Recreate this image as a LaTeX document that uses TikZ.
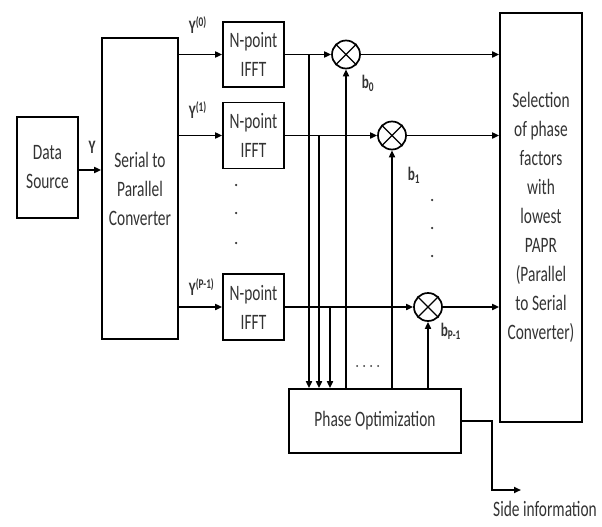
\documentclass[tikz,border=0pt]{standalone}
\usepackage{fontspec}
\setmainfont{Carlito}[FakeStretch=0.7]
\usetikzlibrary{arrows.meta}
\begin{document}
\begin{tikzpicture}[x=1pt,y=-1pt,line width=1.7pt,
  box/.style={draw, rectangle, inner sep=0pt, align=center, text=black!80, font=\fontsize{22}{29}\selectfont},
  mult/.style={draw, circle, minimum size=28pt, inner sep=0pt},
  arr/.style={-{Triangle[length=7pt,width=6pt]}},
  lbl/.style={font=\bfseries\fontsize{19}{20}\selectfont, inner sep=0pt, text=black!80},
  dotmark/.style={circle, fill=black!80, inner sep=0pt, minimum size=2.5pt}]
\useasboundingbox (0,0) rectangle (602,527);
% blocks
\node[box, minimum width=61pt, minimum height=101pt] (ds) at (47.5,167.5) {Data\\Source};
\node[box, minimum width=76pt, minimum height=301pt] (sp) at (140,188.5) {Serial to\\Parallel\\Converter};
\node[box, minimum width=61pt, minimum height=65pt] (f1) at (253.5,54.5) {N-point\\IFFT};
\node[box, minimum width=61pt, minimum height=66pt] (f2) at (253.5,135.5) {N-point\\IFFT};
\node[box, minimum width=61pt, minimum height=66pt] (f3) at (253.5,307) {N-point\\IFFT};
\node[box, minimum width=82pt, minimum height=409pt] (sel) at (541,217.5) {Selection\\of phase\\factors\\with\\lowest\\PAPR\\(Parallel\\to Serial\\Converter)};
\node[box, minimum width=172pt, minimum height=64pt] (po) at (375,421) {Phase Optimization};
% multipliers
\node[mult] (m1) at (346,54.5) {};
\node[mult] (m2) at (392,135.5) {};
\node[mult] (m3) at (428,307) {};
\foreach \m in {m1,m2,m3}{
  \draw[line width=1.4pt] (\m.north west) -- (\m.south east) (\m.north east) -- (\m.south west);
}
% connectors
\draw[arr] (ds.east |- 0,170) -- (sp.west |- 0,170);
\draw[arr] (sp.east |- f1.west) -- (f1.west);
\draw[arr] (sp.east |- f2.west) -- (f2.west);
\draw[arr] (sp.east |- f3.west) -- (f3.west);
\draw[arr] (f1.east) -- (m1.west);
\draw[arr] (f2.east) -- (m2.west);
\draw[arr] (f3.east) -- (m3.west);
\draw[arr] (m1.east) -- (sel.west |- m1.east);
\draw[arr] (m2.east) -- (sel.west |- m2.east);
\draw[arr] (m3.east) -- (sel.west |- m3.east);
% taps to phase optimization
\coordinate (t1) at (309,54.5);
\coordinate (t2) at (319,135.5);
\coordinate (t3) at (330,307);
\draw[arr] (t1) -- (t1 |- po.north);
\draw[arr] (t2) -- (t2 |- po.north);
\draw[arr] (t3) -- (t3 |- po.north);
% phase factors back up
\draw[arr] (po.north -| m1.south) -- (m1.south);
\draw[arr] (po.north -| m2.south) -- (m2.south);
\draw[arr] (po.north -| m3.south) -- (m3.south);
% side information
\coordinate (s1) at (492,421);
\coordinate (s2) at (492,490);
\coordinate (s3) at (521,490);
\draw[arr] (po.east) -- (s1) -- (s2) -- (s3);
\node[box, draw=none, anchor=north] (si) at (545,500) {Side information};
% labels
\node[lbl] (ly) at (92,147) {Y};
\node[lbl, anchor=west] (l0) at (188,25) {Y\textsuperscript{(0)}};
\node[lbl, anchor=west] (l1) at (188,110) {Y\textsuperscript{(1)}};
\node[lbl, anchor=west] (l2) at (188,287) {Y\textsuperscript{(P-1)}};
\node[lbl, anchor=west] (b0) at (361,83) {b\textsubscript{0}};
\node[lbl, anchor=west] (b1) at (407,175) {b\textsubscript{1}};
\node[lbl, anchor=west] (b2) at (440,331) {b\textsubscript{P-1}};
% dots
\foreach \y [count=\i] in {185,213,243}{\node[dotmark] (da\i) at (236,\y) {};}
\foreach \y [count=\i] in {200,228,256}{\node[dotmark] (db\i) at (432,\y) {};}
\foreach \x [count=\i] in {357,364,371,378}{\node[dotmark, minimum size=2pt] (dc\i) at (\x,366) {};}
\end{tikzpicture}
\end{document}
